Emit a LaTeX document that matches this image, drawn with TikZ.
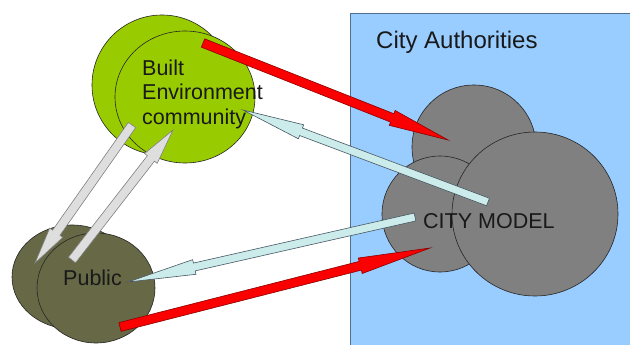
\documentclass[tikz,border=0pt]{standalone}
\usepackage{fontspec}
\setmainfont{Liberation Sans}
\usetikzlibrary{calc,shapes.geometric}
\definecolor{bgblue}{RGB}{153,204,255}
\definecolor{bluerule}{RGB}{80,110,140}
\definecolor{limegreen}{RGB}{153,204,0}
\definecolor{olive}{RGB}{102,104,70}
\definecolor{modelgray}{RGB}{128,128,128}
\definecolor{arrowred}{RGB}{250,0,0}
\definecolor{arrowcyan}{RGB}{204,236,236}
\definecolor{arrowgray}{RGB}{222,222,222}
\newcommand\blockarrow[6]{%
  \coordinate (#1-#2-c) at ($(#2)!#5!(#1)$);
  \path[#6] ($(#1)!#3!90:(#2)$) -- ($(#1-#2-c)!#3!90:(#2)$) -- ($(#1-#2-c)!#4!90:(#2)$)
    -- (#2) -- ($(#1-#2-c)!#4!-90:(#2)$) -- ($(#1-#2-c)!#3!-90:(#2)$) -- ($(#1)!#3!-90:(#2)$) -- cycle;
}
\begin{document}
\begin{tikzpicture}[x=1pt,y=-1pt,
  blob/.style={ellipse, draw=black!85, line width=0.6pt, inner sep=0pt},
  lbl/.style={inner sep=0pt, font=\fontsize{21.5}{24.5}\selectfont, text=black!90},
  redarrow/.style={fill=arrowred, draw=red!55!black, line width=0.6pt},
  cyanarrow/.style={fill=arrowcyan, draw=black!70!cyan, line width=0.6pt},
  grayarrow/.style={fill=arrowgray, draw=black!50, line width=0.6pt}]
\useasboundingbox (0,0) rectangle (630,345);
\fill[white] (0,0) rectangle (630,345);
% City Authorities region
\fill[bgblue] (350,13) rectangle (630,345);
\draw[bluerule, line width=0.6pt] (350,345) -- (350,13) -- (630,13);
\node[lbl, anchor=base west, font=\fontsize{24}{28}\selectfont] (ca) at (376,49) {City Authorities};
% Built environment community
\node[blob, fill=limegreen, minimum width=140pt, minimum height=140pt] (be1) at (162,85) {};
\node[blob, fill=limegreen, minimum width=140pt, minimum height=132pt] (be2) at (185,97) {};
% Public
\node[blob, fill=olive, minimum width=120pt, minimum height=104pt] (pu1) at (72,277) {};
\node[blob, fill=olive, minimum width=118pt, minimum height=110pt] (pu2) at (96,288) {};
% City model
\node[blob, fill=modelgray, minimum width=124pt, minimum height=124pt] (cm1) at (474,147) {};
\node[blob, fill=modelgray, minimum width=116pt, minimum height=116pt] (cm2) at (440,214) {};
\node[blob, fill=modelgray, minimum width=166pt, minimum height=164pt] (cm3) at (535,214) {};
% arrow end points
\coordinate (r1a) at (203,43);  \coordinate (r1b) at (448,140);
\coordinate (c1a) at (488,202); \coordinate (c1b) at (243,110);
\coordinate (c2a) at (415,217); \coordinate (c2b) at (128,282);
\coordinate (r2a) at (120,327); \coordinate (r2b) at (430,248);
\coordinate (g1a) at (132,125); \coordinate (g1b) at (35,263);
\coordinate (g2a) at (72,260);  \coordinate (g2b) at (173,130);
\blockarrow{r1a}{r1b}{4.5pt}{8pt}{60pt}{redarrow}
\blockarrow{c1a}{c1b}{4pt}{7.5pt}{62pt}{cyanarrow}
\blockarrow{c2a}{c2b}{4pt}{7.5pt}{68pt}{cyanarrow}
\blockarrow{r2a}{r2b}{4.5pt}{8pt}{72pt}{redarrow}
\blockarrow{g1a}{g1b}{4.5pt}{8pt}{37pt}{grayarrow}
\blockarrow{g2a}{g2b}{4.5pt}{8pt}{36pt}{grayarrow}
% labels
\node[lbl, anchor=north west, align=left] (betext) at (142,59.5) {Built\\Environment\\community};
\node[lbl, anchor=base] (putext) at (92.5,285) {Public};
\node[lbl, anchor=base west] (cmtext) at (423,228) {CITY MODEL};
\end{tikzpicture}
\end{document}
